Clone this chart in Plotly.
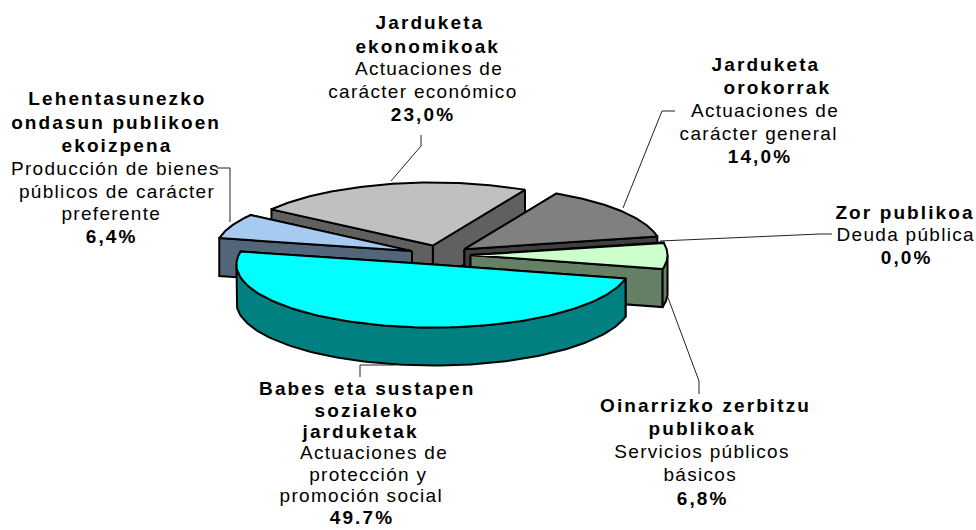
"""
3D exploded pie - Jarduketa / Actuaciones, drawn on pixel-like cartesian axes
"""

import numpy as np
import plotly.graph_objects as go

# Clockwise from the back-left edge of the pie
categories = ['Jarduketa ekonomikoak', 'Jarduketa orokorrak', 'Zor publikoa',
              'Oinarrizko zerbitzu publikoak', 'Babes eta sustapen sozialeko jarduketak',
              'Lehentasunezko ondasun publikoen ekoizpena']
values = [23.0, 14.0, 0.0, 6.8, 49.7, 6.4]
top_colors = ['#C0C0C0', '#808080', '#FFFFFF', '#CCFFCC', '#00FFFF', '#A6CAF0']
side_colors = ['#606060', '#404040', '#808080', '#668066', '#008080', '#536578']
draw_order = [0, 1, 5, 3, 4]

# Pie geometry
CX, CY = 440, 255
RX, RY = 197, 63
DEPTH = 38
EXPLODE = 0.155
START_ANGLE = 145

# (x, y, text, bold)
label_lines = [
    (430, 22, 'Jarduketa', True), (428, 46, 'ekonomikoak', True),
    (429, 68, 'Actuaciones de', False), (423, 91, 'carácter económico', False),
    (423, 114, '23,0%', True),
    (117, 98, 'Lehentasunezko', True), (116, 122, 'ondasun publikoen', True),
    (117, 145, 'ekoizpena', True), (115, 168, 'Producción de bienes', False),
    (117, 191, 'públicos de carácter', False), (111, 213, 'preferente', False),
    (111, 236, '6,4%', True),
    (766, 64, 'Jarduketa', True), (777, 87, 'orokorrak', True),
    (765, 110, 'Actuaciones de', False), (758, 133, 'carácter general', False),
    (760, 156, '14,0%', True),
    (905, 212, 'Zor publikoa', True), (906, 234, 'Deuda pública', False),
    (906, 257, '0,0%', True),
    (705, 405, 'Oinarrizko zerbitzu', True), (702, 428, 'publikoak', True),
    (702, 451, 'Servicios públicos', False), (700, 474, 'básicos', False),
    (702, 498, '6,8%', True),
    (367, 388, 'Babes eta sustapen', True), (367, 410, 'sozialeko', True),
    (360, 431, 'jarduketak', True), (374, 452, 'Actuaciones de', False),
    (368, 474, 'protección y', False), (361, 495, 'promoción social', False),
    (362, 517, '49.7%', True),
]

leader_lines = [
    ([421, 421, 391], [135, 146, 181]),
    ([217, 230, 230], [168, 168, 222]),
    ([675, 662, 623], [111, 111, 208]),
    ([832, 820, 660], [234, 234, 241]),
    ([667, 699, 699], [295, 381, 394]),
    ([360, 360, 395], [377, 365, 365]),
]

# Original text is stretched wide, bold more so; plotly has no letter spacing option
SPACING_JS = """
document.body.style.margin = '0';
function spaceLabels() {
    document.querySelectorAll('text.annotation-text').forEach(function (t) {
        t.style.letterSpacing = '1.3px';
        t.querySelectorAll('tspan').forEach(function (s) {
            if ((s.getAttribute('style') || '').indexOf('bold') >= 0) {
                s.style.letterSpacing = '2.1px';
            }
        });
    });
}
spaceLabels();
setTimeout(spaceLabels, 50);
"""


def ellipse_point(center, angle):
    """Point on the top rim of a slice, angle in degrees (counter-clockwise from east)."""
    rad = np.radians(angle)
    return center[0] + RX * np.cos(rad), center[1] - RY * np.sin(rad)


def add_polygon(fig, xs, ys, color):
    fig.add_trace(go.Scatter(
        x=xs, y=ys, mode='lines', fill='toself', fillcolor=color,
        line=dict(color='black', width=2), hoverinfo='skip', showlegend=False
    ))


def add_slice(fig, a_start, a_end, top, side):
    """Draw a slice going clockwise from a_start to a_end, back faces first."""
    mid = np.radians((a_start + a_end) / 2)
    center = (CX + EXPLODE * RX * np.cos(mid), CY - EXPLODE * RY * np.sin(mid))

    # Radial faces, farther one first
    ends = sorted([a_start, a_end], key=lambda a: ellipse_point(center, a)[1])
    for angle in ends:
        px_, py_ = ellipse_point(center, angle)
        add_polygon(fig,
                    [center[0], px_, px_, center[0], center[0]],
                    [center[1], py_, py_ + DEPTH, center[1] + DEPTH, center[1]],
                    side)

    # Outer wall, only where the rim faces the viewer
    angles = np.linspace(a_start, a_end, 120)
    front = angles[np.sin(np.radians(angles)) < 0]
    if len(front) > 1:
        xs, ys = ellipse_point(center, front)
        add_polygon(fig,
                    np.concatenate([xs, xs[::-1], xs[:1]]),
                    np.concatenate([ys, ys[::-1] + DEPTH, ys[:1]]),
                    side)

    # Top face
    xs, ys = ellipse_point(center, angles)
    add_polygon(fig,
                np.concatenate([[center[0]], xs, [center[0]]]),
                np.concatenate([[center[1]], ys, [center[1]]]),
                top)


fig = go.Figure()

# Slice boundaries come straight from the values
sweeps = 360 * np.array(values) / sum(values)
boundaries = START_ANGLE - np.concatenate([[0], np.cumsum(sweeps)])

for x_line, y_line in leader_lines:
    fig.add_trace(go.Scatter(x=x_line, y=y_line, mode='lines',
                             line=dict(color='#222222', width=1),
                             hoverinfo='skip', showlegend=False))

for i in draw_order:
    add_slice(fig, boundaries[i], boundaries[i + 1], top_colors[i], side_colors[i])

for x, y, text, bold in label_lines:
    fig.add_annotation(
        x=x, y=y, text=f'<b>{text}</b>' if bold else text, showarrow=False,
        xanchor='center', yanchor='middle',
        font=dict(family='Liberation Sans, Arial, sans-serif', size=19, color='black')
    )

fig.update_layout(
    width=976, height=530,
    margin=dict(l=0, r=0, t=0, b=0),
    plot_bgcolor='white', paper_bgcolor='white',
    xaxis=dict(range=[0, 976], visible=False, fixedrange=True),
    yaxis=dict(range=[530, 0], visible=False, fixedrange=True),
    showlegend=False
)

fig.write_html("out.html", post_script=SPACING_JS, config={'displayModeBar': False})
